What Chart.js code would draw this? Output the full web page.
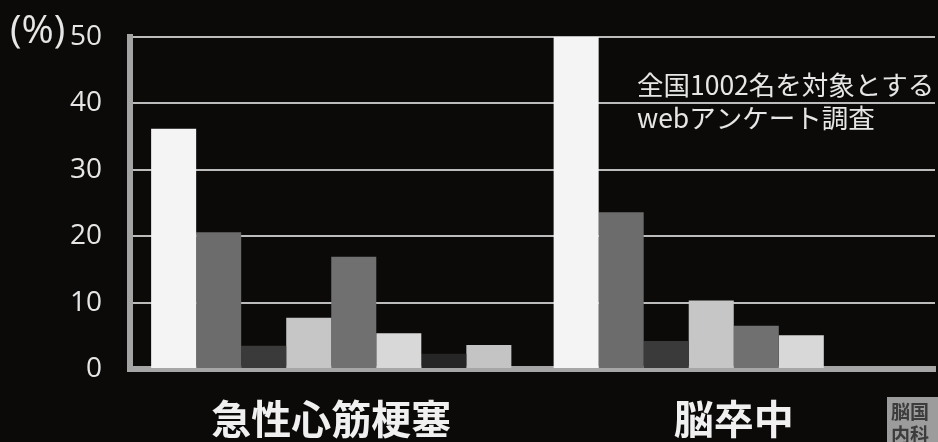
<!DOCTYPE html>
<html>
<head>
<meta charset="utf-8">
<script src="https://cdn.jsdelivr.net/npm/chart.js@4.4.1/dist/chart.umd.min.js"></script>
<style>
  html, body { margin: 0; padding: 0; background: #0b0a08; }
  #wrap { width: 938px; height: 442px; }
</style>
</head>
<body>
<div id="wrap"><canvas id="bar-chart" width="938" height="442"></canvas></div>
<script>
// categories and the eight answer groups (percent)
const categories = ['急性心筋梗塞', '脳卒中'];
const series1 = [36.2, 50];
const series2 = [20.6, 23.6];
const series3 = [3.5, 4.2];
const series4 = [7.7, 10.3];
const series5 = [16.9, 6.5];
const series6 = [5.4, 5.1];
const series7 = [2.3, 0];
const series8 = [3.6, 0];
const yTicks = [0, 10, 20, 30, 40, 50];

const barColors = ['#f4f4f4', '#6c6c6c', '#3a3a3a', '#c6c6c6', '#707070', '#d8d8d8', '#262626', '#c4c4c4'];
const allSeries = [series1, series2, series3, series4, series5, series6, series7, series8];

// background, unit label, note and corner mark
const extras = {
    id: 'extras',
    beforeDraw(chart) {
        const ctx = chart.ctx;
        ctx.save();
        ctx.fillStyle = '#0b0a08';
        ctx.fillRect(0, 0, chart.width, chart.height);
        ctx.restore();
    },
    afterDraw(chart) {
        const ctx = chart.ctx;
        ctx.save();
        ctx.fillStyle = '#e6e6e6';
        ctx.textBaseline = 'middle';
        ctx.textAlign = 'left';
        ctx.font = '39px "Open Sans"';
        ctx.fillText('(%)', 10, 32);

        ctx.font = '26.5px "Noto Sans CJK JP"';
        ctx.fillText('全国1002名を対象とする', 637, 85);
        ctx.fillText('webアンケート調査', 637, 118);

        // small logo box at lower right
        ctx.fillStyle = '#9c9c9c';
        ctx.fillRect(887, 397, 60, 50);
        ctx.fillStyle = '#3c3c3c';
        ctx.font = 'bold 19px "Noto Sans CJK JP"';
        ctx.fillText('脳国', 891, 412);
        ctx.fillText('内科', 891, 435);
        ctx.restore();
    }
};

const ctx = document.getElementById('bar-chart').getContext('2d');
const barChart = new Chart(ctx, {
    type: 'bar',
    data: {
        labels: categories,
        datasets: allSeries.map((data, i) => ({
            label: 'group' + (i + 1),
            data: data,
            backgroundColor: barColors[i],
            borderWidth: 0
        }))
    },
    options: {
        responsive: false,
        animation: false,
        events: [],
        layout: { padding: { top: 37, right: 3, left: 0, bottom: 0 } },
        datasets: {
            bar: { categoryPercentage: 0.895, barPercentage: 1 }
        },
        plugins: {
            legend: { display: false },
            tooltip: { enabled: false }
        },
        scales: {
            x: {
                grid: { display: false },
                border: { display: true, color: '#a6a6a6', width: 6 },
                ticks: {
                    color: '#f0f0f0',
                    padding: 18,
                    font: { family: '"Noto Sans CJK JP"', size: 40, weight: 'bold' }
                },
                afterFit: s => {
                    s.height = 73;
                    s.paddingLeft = 0;
                    s.paddingRight = 0;
                    s.paddingTop = 0;
                    s.paddingBottom = 0;
                }
            },
            y: {
                min: 0,
                max: 50,
                afterBuildTicks: s => { s.ticks = yTicks.map(v => ({ value: v })); },
                grid: { color: '#bcbcbc', lineWidth: 2, drawTicks: false },
                border: { display: true, color: '#a4a4a4', width: 6 },
                ticks: {
                    color: '#e6e6e6',
                    padding: 28,
                    font: { family: '"Open Sans"', size: 28 }
                },
                afterFit: s => {
                    s.width = 130;
                    s.paddingTop = 0;
                    s.paddingBottom = 0;
                }
            }
        }
    },
    plugins: [extras]
});
</script>
</body>
</html>
